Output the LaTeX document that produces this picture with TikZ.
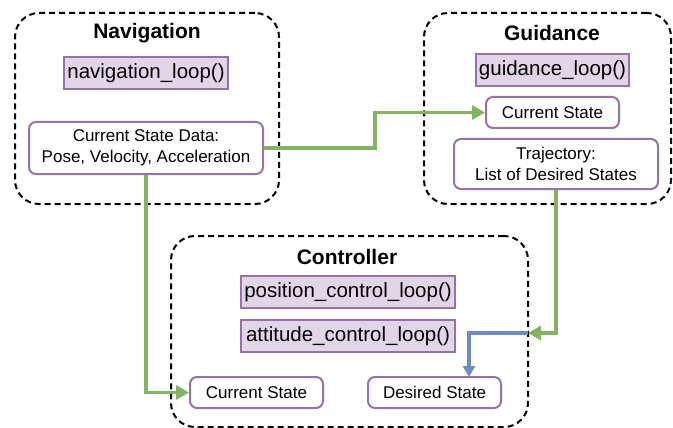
\documentclass[tikz,border=0pt]{standalone}
\usepackage{fontspec}
\setmainfont{Liberation Sans}
\usetikzlibrary{arrows.meta,calc}
\definecolor{pstroke}{HTML}{9673A6}
\definecolor{pfill}{HTML}{E1D5E7}
\definecolor{gline}{HTML}{82B366}
\definecolor{bline}{HTML}{6C8EBF}
\begin{document}
\begin{tikzpicture}[x=1pt,y=-1pt,
  container/.style={draw=black,dashed,dash pattern=on 6pt off 4pt,line width=2pt,rounded corners=24pt,anchor=north west,inner sep=0pt},
  title/.style={font=\bfseries\fontsize{21}{24}\selectfont},
  func/.style={draw=pstroke,fill=pfill,line width=2pt,inner sep=0pt,font=\fontsize{20.5}{24}\selectfont},
  data/.style={draw=pstroke,fill=white,line width=2pt,rounded corners=7pt,inner sep=0pt,align=center,font=\fontsize{17}{21}\selectfont},
  gconn/.style={draw=gline,line width=3.2pt,-{Triangle[length=13pt,width=14pt]}},
  bconn/.style={draw=bline,line width=3.2pt,-{Triangle[length=11pt,width=12pt]}}
]
\useasboundingbox (0,0) rectangle (673,428);
% containers
\node[container,minimum width=264pt,minimum height=191pt] (navc) at (14,12) {};
\node[container,minimum width=247pt,minimum height=191pt] (guic) at (423,12) {};
\node[container,minimum width=357pt,minimum height=191pt] (ctrc) at (170,235) {};
% titles
\node[title] (navt) at (147,33) {Navigation};
\node[title] (guit) at (552,33) {Guidance};
\node[title] (ctrt) at (347,257) {Controller};
% function boxes
\node[func,minimum width=164pt,minimum height=32pt] (navl) at (146,73) {navigation\_loop()};
\node[func,minimum width=153pt,minimum height=32pt] (guil) at (552.5,70) {guidance\_loop()};
\node[func,minimum width=214pt,minimum height=32pt] (posl) at (348,292) {position\_control\_loop()};
\node[func,minimum width=214pt,minimum height=32pt] (attl) at (348,336) {attitude\_control\_loop()};
% data boxes
\node[data,minimum width=234pt,minimum height=52pt] (nds) at (146,148) {Current State Data:\\Pose, Velocity, Acceleration};
\node[data,minimum width=133pt,minimum height=31pt] (gcs) at (552.5,112.5) {Current State};
\node[data,minimum width=204pt,minimum height=50pt] (traj) at (556,164) {Trajectory:\\List of Desired States};
\node[data,minimum width=133pt,minimum height=31pt] (ccs) at (256.5,392.5) {Current State};
\node[data,minimum width=133pt,minimum height=31pt] (ds) at (434.5,392.5) {Desired State};
% connectors
\coordinate (c1) at (375,148);
\coordinate (j) at (528,333);
\coordinate (bk) at (469,377);
\draw[gconn] (nds.east) -- (c1) |- (gcs.west);
\draw[gconn] (nds.south) |- (ccs.west);
\draw[gconn] (traj.south) |- (j);
\draw[bconn] (j) -| (bk);
\end{tikzpicture}
\end{document}
